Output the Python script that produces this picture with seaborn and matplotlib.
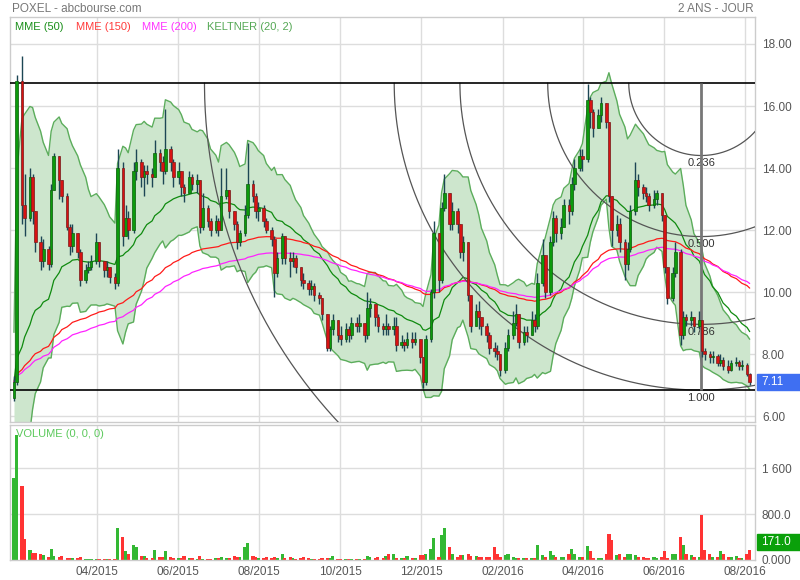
import numpy as np
import pandas as pd
import matplotlib
matplotlib.use("Agg")
import matplotlib.pyplot as plt
import matplotlib.dates as mdates
import matplotlib.transforms as mtransforms
from matplotlib.patches import Rectangle
import seaborn as sns

# ---------------- data (2-business-day candles) ----------------
start_date = "2015-01-28"
open0 = 6.6
close = [7.1, 16.8, 12.8, 12.4, 13.7, 12.6, 11.6, 11.0, 11.4, 10.9,
         13.3, 14.4, 13.6, 13.1, 12.1, 11.5, 11.9, 11.3, 10.4, 10.7,
         10.8, 11.0, 11.6, 11.0, 10.7, 10.8, 10.5, 10.3, 14.0, 11.8,
         12.4, 12.0, 13.9, 14.2, 13.7, 13.9, 13.8, 13.7, 14.5, 14.2,
         13.9, 14.6, 14.2, 13.7, 13.9, 13.4, 13.2, 13.7, 13.5, 13.6,
         12.1, 12.7, 12.3, 12.0, 12.3, 12.0, 13.1, 13.3, 12.6, 12.2,
         11.6, 11.9, 12.5, 13.5, 13.1, 12.6, 12.7, 12.3, 12.0, 11.7,
         10.6, 11.1, 11.8, 11.1, 11.0, 11.1, 10.8, 10.4, 10.3, 10.1,
         10.2, 9.9, 9.8, 9.3, 8.2, 8.8, 9.1, 8.6, 8.5, 8.8,
         8.6, 9.0, 8.9, 9.0, 8.6, 9.5, 9.6, 9.2, 8.9, 8.8,
         8.9, 8.8, 8.9, 8.3, 8.4, 8.3, 8.5, 8.4, 8.5, 7.9,
         7.1, 8.5, 10.0, 11.9, 10.4, 12.7, 13.2, 12.2, 12.6, 12.2,
         11.3, 11.6, 9.9, 8.9, 9.4, 9.2, 8.9, 8.6, 8.2, 8.1,
         8.0, 7.5, 8.2, 8.6, 9.0, 9.3, 8.4, 8.7, 8.6, 9.1,
         8.9, 10.3, 11.2, 10.0, 11.6, 12.4, 11.9, 12.1, 12.8, 12.6,
         13.5, 14.0, 14.4, 14.3, 16.2, 15.8, 15.3, 15.7, 16.1, 15.5,
         13.1, 12.0, 12.2, 11.6, 10.9, 11.4, 12.6, 13.6, 13.4, 13.2,
         13.1, 12.8, 13.0, 13.2, 12.5, 10.8, 9.8, 10.6, 11.3, 8.6,
         9.2, 9.1, 9.2, 8.9, 9.1, 8.1, 8.0, 7.9, 7.95, 7.7,
         7.8, 7.6, 7.5, 7.7, 7.75, 7.6, 7.65, 7.35, 7.11]
high = [7.3, 17.0, 17.6, 13.8, 14.0, 13.8, 12.2, 11.8, 11.7, 11.5,
        13.5, 14.5, 14.4, 13.5, 13.2, 12.2, 12.2, 11.8, 11.4, 10.9,
        11.0, 11.2, 11.9, 11.6, 11.0, 11.0, 10.8, 10.6, 14.6, 14.2,
        12.8, 12.6, 14.2, 14.6, 14.3, 14.1, 14.1, 14.0, 14.9, 14.6,
        14.4, 15.9, 14.7, 14.3, 14.2, 13.9, 13.5, 13.9, 13.8, 13.8,
        13.6, 13.2, 12.8, 12.4, 12.5, 12.4, 14.0, 14.0, 13.3, 12.6,
        12.3, 12.0, 12.8, 14.8, 13.6, 13.2, 12.9, 12.8, 12.4, 12.1,
        11.8, 11.3, 11.9, 11.8, 11.3, 11.3, 11.2, 10.8, 10.6, 10.4,
        10.4, 10.3, 10.0, 9.8, 9.3, 8.9, 9.3, 9.1, 8.9, 9.0,
        8.9, 9.2, 9.2, 9.3, 9.0, 10.0, 9.8, 9.6, 9.3, 9.0,
        9.3, 9.0, 9.2, 9.2, 8.6, 8.5, 8.7, 8.7, 8.7, 8.4,
        7.9, 8.6, 10.1, 12.3, 11.9, 12.9, 13.8, 13.2, 12.9, 12.7,
        12.2, 11.8, 11.6, 9.8, 9.6, 9.7, 9.2, 9.0, 8.7, 8.4,
        8.3, 8.0, 8.4, 8.8, 9.4, 9.6, 9.3, 8.9, 8.9, 9.4,
        9.3, 10.6, 11.7, 11.2, 11.8, 12.6, 12.5, 12.4, 13.0, 13.0,
        13.7, 14.3, 14.6, 14.6, 16.7, 16.3, 15.9, 15.9, 16.3, 16.1,
        15.5, 13.1, 12.5, 12.4, 11.7, 11.6, 12.8, 14.2, 13.8, 13.5,
        13.4, 13.2, 13.3, 13.3, 13.2, 12.5, 10.8, 10.8, 11.6, 11.4,
        9.4, 9.3, 9.4, 9.2, 9.4, 9.1, 8.2, 8.1, 8.1, 8.0,
        8.0, 7.9, 7.8, 7.8, 7.9, 7.8, 7.8, 7.7, 7.4]
low = [6.5, 7.0, 12.2, 11.8, 12.3, 12.2, 11.3, 10.7, 10.8, 10.7,
       10.8, 13.3, 13.0, 12.9, 12.0, 11.2, 11.3, 11.1, 10.2, 10.3,
       10.6, 10.7, 10.9, 10.8, 10.5, 10.5, 10.3, 10.1, 10.2, 11.5,
       11.8, 11.7, 11.9, 13.6, 13.4, 13.1, 13.5, 13.4, 13.7, 13.9,
       13.5, 13.8, 13.9, 13.4, 13.5, 13.1, 12.9, 13.2, 13.3, 13.2,
       11.9, 12.0, 12.1, 11.8, 11.9, 11.8, 12.0, 13.0, 12.4, 12.0,
       11.4, 11.5, 11.8, 12.4, 12.9, 12.4, 12.3, 12.1, 11.9, 11.5,
       9.85, 10.5, 10.9, 10.9, 10.5, 10.8, 10.6, 10.2, 10.1, 9.9,
       9.9, 9.7, 9.6, 9.1, 8.1, 8.1, 8.6, 8.4, 8.3, 8.4,
       8.4, 8.5, 8.7, 8.7, 8.4, 8.5, 9.2, 8.9, 8.7, 8.6,
       8.6, 8.6, 8.6, 8.1, 8.2, 8.1, 8.2, 8.2, 8.3, 7.7,
       6.9, 7.0, 8.4, 9.8, 10.0, 10.3, 12.6, 12.0, 12.0, 11.9,
       11.1, 11.0, 9.7, 8.7, 8.9, 8.8, 8.6, 8.4, 8.0, 7.9,
       7.8, 7.3, 7.4, 8.1, 8.5, 8.9, 8.2, 8.3, 8.4, 8.6,
       8.7, 8.8, 10.2, 9.8, 9.9, 11.5, 11.6, 11.7, 12.1, 12.2,
       12.5, 13.3, 13.9, 13.9, 14.2, 15.3, 15.0, 15.3, 15.5, 15.3,
       12.9, 11.5, 11.8, 11.3, 10.4, 10.7, 11.3, 12.5, 13.1, 13.0,
       12.9, 12.6, 12.7, 12.8, 12.3, 10.6, 9.6, 9.7, 10.5, 8.3,
       8.5, 8.9, 8.9, 8.7, 8.8, 7.9, 7.8, 7.7, 7.7, 7.6,
       7.6, 7.5, 7.4, 7.45, 7.6, 7.5, 7.5, 7.3, 7.0]
volume = [1420, 2170, 1290, 365, 180, 130, 120, 100, 90, 50,
          200, 75, 50, 70, 40, 35, 30, 30, 55, 25,
          20, 15, 25, 20, 15, 20, 15, 20, 550, 400,
          157, 100, 260, 230, 70, 70, 40, 40, 175, 50,
          50, 150, 60, 30, 40, 30, 70, 30, 30, 25,
          75, 25, 20, 20, 30, 40, 55, 30, 30, 75,
          60, 60, 230, 290, 75, 55, 30, 30, 50, 40,
          60, 30, 100, 40, 50, 30, 25, 40, 55, 30,
          20, 25, 20, 30, 30, 30, 75, 20, 20, 20,
          20, 25, 20, 20, 25, 75, 50, 40, 60, 40,
          75, 100, 100, 40, 30, 30, 75, 30, 30, 85,
          85, 100, 200, 390, 60, 435, 550, 230, 100, 60,
          80, 90, 100, 70, 70, 60, 50, 60, 60, 230,
          100, 60, 80, 110, 60, 30, 30, 40, 30, 30,
          40, 260, 80, 60, 160, 80, 60, 50, 60, 100,
          190, 100, 55, 55, 245, 150, 40, 40, 40, 100,
          450, 340, 90, 110, 60, 110, 110, 80, 50, 50,
          40, 40, 50, 30, 60, 160, 40, 100, 100, 405,
          260, 110, 80, 60, 60, 785, 170, 100, 50, 50,
          150, 110, 60, 60, 70, 40, 40, 100, 171]

ma_periods = [50, 150, 200]
ma_colors = ["#0f8a0f", "#ff1a1a", "#ff22ff"]
keltner_period, keltner_mult = 20, 2
bar_days = 2  # each candle spans two trading days

fib_high, fib_low = 16.74, 6.84
fib_date = "2016-06-29"
fib_ratios = [0.236, 0.5, 0.786, 1.0, 1.618]
fib_labels = ["0.236", "0.500", "0.786", "1.000", "1.618"]

tick_dates = ["2015-04-01", "2015-06-01", "2015-08-01", "2015-10-01", "2015-12-01",
              "2016-02-01", "2016-04-01", "2016-06-01", "2016-08-01"]
tick_labels = ["04/2015", "06/2015", "08/2015", "10/2015", "12/2015",
               "02/2016", "04/2016", "06/2016", "08/2016"]
price_ticks = [6, 8, 10, 12, 14, 16, 18]
vol_ticks = [0, 800, 1600]
vol_tick_labels = ["0.000", "800.0", "1 600"]
x_range = ("2015-01-25 12:00", "2016-08-08 12:00")
price_range = (5.81, 18.87)
vol_range = (0, 2350)

# ---------------- style ----------------
sns.set_style("white")
plt.rcParams["font.family"] = ["Liberation Sans", "DejaVu Sans"]
GRID = "#dddddd"
TXT = "#555555"

W, H = 800, 580
fig = plt.figure(figsize=(W / 100, H / 100), dpi=100)
ax = fig.add_axes([10 / W, 1 - 422 / H, 745 / W, 405 / H])
axv = fig.add_axes([10 / W, 1 - 560 / H, 745 / W, 135 / H], sharex=ax)

c = np.array(close, float)
h = np.array(high, float)
l = np.array(low, float)
v = np.array(volume, float)
o = np.r_[open0, c[:-1]]
h = np.maximum(h, np.maximum(o, c))
l = np.minimum(l, np.minimum(o, c))
dates = pd.date_range(start_date, periods=len(c), freq="2B")
x = mdates.date2num(dates.to_pydatetime()) + 0.5
up = c >= o

# indicators
cs = pd.Series(c)
emas = [cs.ewm(span=p / bar_days, adjust=False).mean().values for p in ma_periods]
prev_c = np.r_[open0, c[:-1]]
tr = np.maximum.reduce([h - l, np.abs(h - prev_c), np.abs(l - prev_c)])
mid = cs.ewm(span=keltner_period / bar_days, adjust=False).mean().values
atr = pd.Series(tr).ewm(span=keltner_period / bar_days, adjust=False).mean().values
k_up = mid + keltner_mult * atr
k_lo = mid - keltner_mult * atr

x0, x1 = mdates.date2num(pd.Timestamp(x_range[0])), mdates.date2num(pd.Timestamp(x_range[1]))
ax.set_xlim(x0, x1)
ax.set_ylim(*price_range)
axv.set_ylim(*vol_range)

tx = mdates.date2num(pd.to_datetime(tick_dates).to_pydatetime())
for a in (ax, axv):
    for t in tx:
        a.axvline(t, color=GRID, lw=1, zorder=0)
    for s in a.spines.values():
        s.set_color("#cccccc")
        s.set_linewidth(1)
for p in price_ticks:
    ax.axhline(p, color=GRID, lw=1, zorder=0)
for p in vol_ticks[1:]:
    axv.axhline(p, color=GRID, lw=1, zorder=0)

# Keltner band
ax.fill_between(x, k_lo, k_up, color="#cde6cd", lw=0, zorder=1)
sns.lineplot(x=x, y=k_up, ax=ax, color="#5cad5c", lw=1, legend=False, zorder=2)
sns.lineplot(x=x, y=k_lo, ax=ax, color="#5cad5c", lw=1, legend=False, zorder=2)

# moving averages
for e, col in zip(emas, ma_colors):
    sns.lineplot(x=x, y=e, ax=ax, color=col, lw=0.9, legend=False, zorder=3)

# Fibonacci arcs
px_day = 745 / (x1 - x0)
px_price = 405 / (price_range[1] - price_range[0])
cx = mdates.date2num(pd.Timestamp(fib_date))
span = fib_high - fib_low
t = np.linspace(0, np.pi, 400)
for r, lab in zip(fib_ratios, fib_labels):
    rp = r * span
    rd = rp * px_price / px_day
    ax.plot(cx + rd * np.cos(t), fib_high - rp * np.sin(t), color="#555555", lw=0.9, zorder=3)
    ax.annotate(lab, (cx, fib_high - rp), xytext=(0, -2), textcoords="offset points",
                ha="center", va="top", fontsize=8, color="#333333", zorder=3)
ax.axhline(fib_high, color="black", lw=1.2, zorder=3)
ax.axhline(fib_low, color="black", lw=1.2, zorder=3)
ax.vlines(cx, fib_low, fib_high, color="#777777", lw=2, zorder=3)

# candles
ax.vlines(x, l, h, color="#1c4654", lw=1, zorder=4)
body_b = np.minimum(o, c)
body_h = np.maximum(np.abs(c - o), 0.05)
ax.bar(x[up], body_h[up], bottom=body_b[up], width=2.0, color="#0c9a0c",
       edgecolor="#0a5e0a", lw=0.5, zorder=5)
ax.bar(x[~up], body_h[~up], bottom=body_b[~up], width=2.0, color="#d81212",
       edgecolor="#7a1c1c", lw=0.5, zorder=5)

# volume
axv.bar(x[up], v[up], width=2.4, color="#33b833", lw=0, zorder=2)
axv.bar(x[~up], v[~up], width=2.4, color="#ff3333", lw=0, zorder=2)

# axes ticks
ax.yaxis.tick_right()
ax.set_yticks(price_ticks)
ax.set_yticklabels([f"{p:.2f}" for p in price_ticks])
ax.tick_params(axis="y", length=0, pad=5, labelsize=8.5, labelcolor=TXT)
ax.tick_params(axis="x", length=0, labelbottom=False)
axv.yaxis.tick_right()
axv.set_yticks(vol_ticks)
axv.set_yticklabels(vol_tick_labels)
axv.tick_params(axis="y", length=0, pad=5, labelsize=8.5, labelcolor=TXT)
axv.set_xticks(tx)
axv.set_xticklabels(tick_labels)
axv.tick_params(axis="x", length=0, pad=4, labelsize=8.5, labelcolor=TXT)
ax.set_xlabel("")
axv.set_xlabel("")

# last value boxes
bt = mtransforms.blended_transform_factory(ax.transAxes, ax.transData)
box_h = 16 / px_price
ax.add_patch(Rectangle((1.0027, c[-1] - box_h / 2), 0.058, box_h, transform=bt,
                       color="#3f6ff2", clip_on=False, zorder=6))
ax.text(1.008, c[-1], f"{c[-1]:.2f}", transform=bt, color="white", fontsize=8.5,
        va="center", ha="left", clip_on=False, zorder=7)
btv = mtransforms.blended_transform_factory(axv.transAxes, axv.transData)
vbox_h = 16 * (vol_range[1] - vol_range[0]) / 135
axv.add_patch(Rectangle((1.0027, v[-1]), 0.058, vbox_h, transform=btv,
                        color="#0aa00a", clip_on=False, zorder=6))
axv.text(1.008, v[-1] + vbox_h / 2, f"{v[-1]:.1f}", transform=btv, color="white",
         fontsize=8.5, va="center", ha="left", clip_on=False, zorder=7)

# header texts
fig.text(12 / W, 1 - 9 / H, "POXEL - abcbourse.com", fontsize=8.5, color="#777777", va="center")
fig.text(754 / W, 1 - 9 / H, "2 ANS - JOUR", fontsize=8.5, color="#777777", va="center", ha="right")
legend_items = [("MME (50)", "#1a8f1a", 15), ("MME (150)", "#ff3b3b", 76),
                ("MME (200)", "#ff33ff", 142), ("KELTNER (20, 2)", "#55a855", 207)]
for txt, col, px in legend_items:
    fig.text(px / W, 1 - 27 / H, txt, fontsize=8, color=col, va="center")
fig.text(16 / W, 1 - 434 / H, "VOLUME (0, 0, 0)", fontsize=8, color="#5cc95c", va="center")

fig.savefig("out.png", dpi=100)
